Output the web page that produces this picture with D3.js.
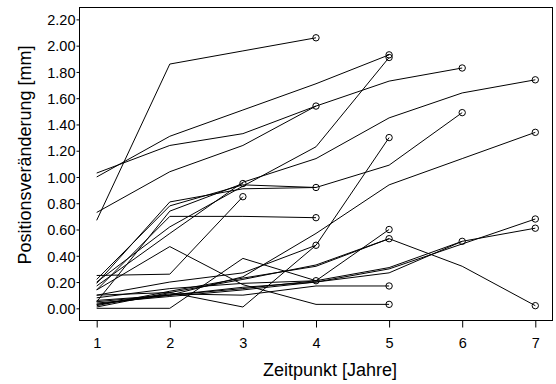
<!DOCTYPE html>
<html>
<head>
<meta charset="utf-8">
<script src="https://cdn.jsdelivr.net/npm/d3@7/dist/d3.min.js"></script>
<style>
  html, body { margin: 0; padding: 0; background: #fff; }
  svg { display: block; }
  text { font-family: "Liberation Sans", Arial, sans-serif; fill: #000; }
</style>
</head>
<body>
<svg id="chart" width="556" height="384"></svg>
<script>
// Measurement time points (years) and y-axis ticks
const years = [1, 2, 3, 4, 5, 6, 7];
const yTicks = [0, 0.2, 0.4, 0.6, 0.8, 1.0, 1.2, 1.4, 1.6, 1.8, 2.0, 2.2];

// Position change per subject [mm], one value per year until the last visit
const s01 = [0.67, 1.86, 1.96, 2.06];
const s02 = [1.00, 1.31, 1.51, 1.71, 1.93];
const s03 = [1.03, 1.24, 1.33, 1.54, 1.73, 1.83];
const s04 = [0.73, 1.04, 1.24, 1.54];
const s05 = [0.20, 0.62, 0.93, 1.23, 1.91];
const s06 = [0.17, 0.57, 0.96, 1.14, 1.45, 1.64, 1.74];
const s07 = [0.05, 0.74, 0.95];
const s08 = [0.22, 0.78, 0.94, 0.92];
const s09 = [0.19, 0.81, 0.91, 0.92, 1.09, 1.49];
const s10 = [0.14, 0.70, 0.70, 0.69];
const s11 = [0.25, 0.26, 0.85];
const s12 = [0.14, 0.47, 0.18, 0.03, 0.03];
const s13 = [0.10, 0.12, 0.01, 0.48, 1.30];
const s14 = [0.00, 0.00, 0.38, 0.21];
const s15 = [0.03, 0.10, 0.24, 0.57, 0.94, 1.14, 1.34];
const s16 = [0.01, 0.12, 0.22, 0.33, 0.53, 0.32, 0.02];
const s17 = [0.02, 0.13, 0.23, 0.32, 0.53];
const s18 = [0.05, 0.10, 0.15, 0.21, 0.31, 0.51];
const s19 = [0.04, 0.09, 0.14, 0.20, 0.30, 0.49, 0.68];
const s20 = [0.06, 0.10, 0.16, 0.20, 0.27, 0.51, 0.61];
const s21 = [0.08, 0.15, 0.19, 0.21, 0.60];
const s22 = [0.03, 0.11, 0.10, 0.17, 0.17];
const s23 = [0.10, 0.20, 0.27, 0.48];

const subjects = [s01, s02, s03, s04, s05, s06, s07, s08, s09, s10, s11, s12,
                  s13, s14, s15, s16, s17, s18, s19, s20, s21, s22, s23];

const xTitle = "Zeitpunkt [Jahre]";
const yTitle = "Positionsveränderung [mm]";

const svg = d3.select("#chart");

// plot frame
const frame = { left: 79, right: 552, top: 7, bottom: 320 };

const x = d3.scaleLinear().domain([1, 7]).range([96.7, 535.3]);
const y = d3.scaleLinear().domain([0, 2.2]).range([308.3, 19.4]);

svg.append("rect")
  .attr("x", frame.left + 0.5)
  .attr("y", frame.top + 0.5)
  .attr("width", frame.right - frame.left)
  .attr("height", frame.bottom - frame.top)
  .attr("fill", "none")
  .attr("stroke", "#000")
  .attr("stroke-width", 1);

// y axis
const yAxis = d3.axisLeft(y)
  .tickValues(yTicks)
  .tickFormat(d3.format(".2f"))
  .tickSize(3)
  .tickPadding(1)
  .tickSizeOuter(0);
const gy = svg.append("g")
  .attr("transform", `translate(${frame.left + 0.5},0)`)
  .call(yAxis);
gy.select(".domain").remove();
gy.selectAll("text").style("font-size", "14.5px").attr("dy", "0.36em");

// x axis
const xAxis = d3.axisBottom(x)
  .tickValues(years)
  .tickFormat(d3.format("d"))
  .tickSize(7)
  .tickPadding(10.5)
  .tickSizeOuter(0);
const gx = svg.append("g")
  .attr("transform", `translate(0,${frame.bottom + 0.5})`)
  .call(xAxis);
gx.select(".domain").remove();
gx.selectAll("text").style("font-size", "14.5px");

// axis titles
svg.append("text")
  .attr("x", 330)
  .attr("y", 376)
  .attr("text-anchor", "middle")
  .style("font-size", "18px")
  .text(xTitle);

svg.append("text")
  .attr("transform", "translate(31,155) rotate(-90)")
  .attr("text-anchor", "middle")
  .style("font-size", "18px")
  .text(yTitle);

// subject trajectories
const line = d3.line()
  .x((d, i) => x(years[i]))
  .y(d => y(d));

const plot = svg.append("g");

plot.selectAll("path.traj")
  .data(subjects)
  .join("path")
  .attr("class", "traj")
  .attr("d", line)
  .attr("fill", "none")
  .attr("stroke", "#000")
  .attr("stroke-width", 1);

// open circle at each subject's last visit
plot.selectAll("circle.last")
  .data(subjects)
  .join("circle")
  .attr("class", "last")
  .attr("cx", d => x(years[d.length - 1]))
  .attr("cy", d => y(d[d.length - 1]))
  .attr("r", 3.2)
  .attr("fill", "none")
  .attr("stroke", "#000")
  .attr("stroke-width", 1);
</script>
</body>
</html>
